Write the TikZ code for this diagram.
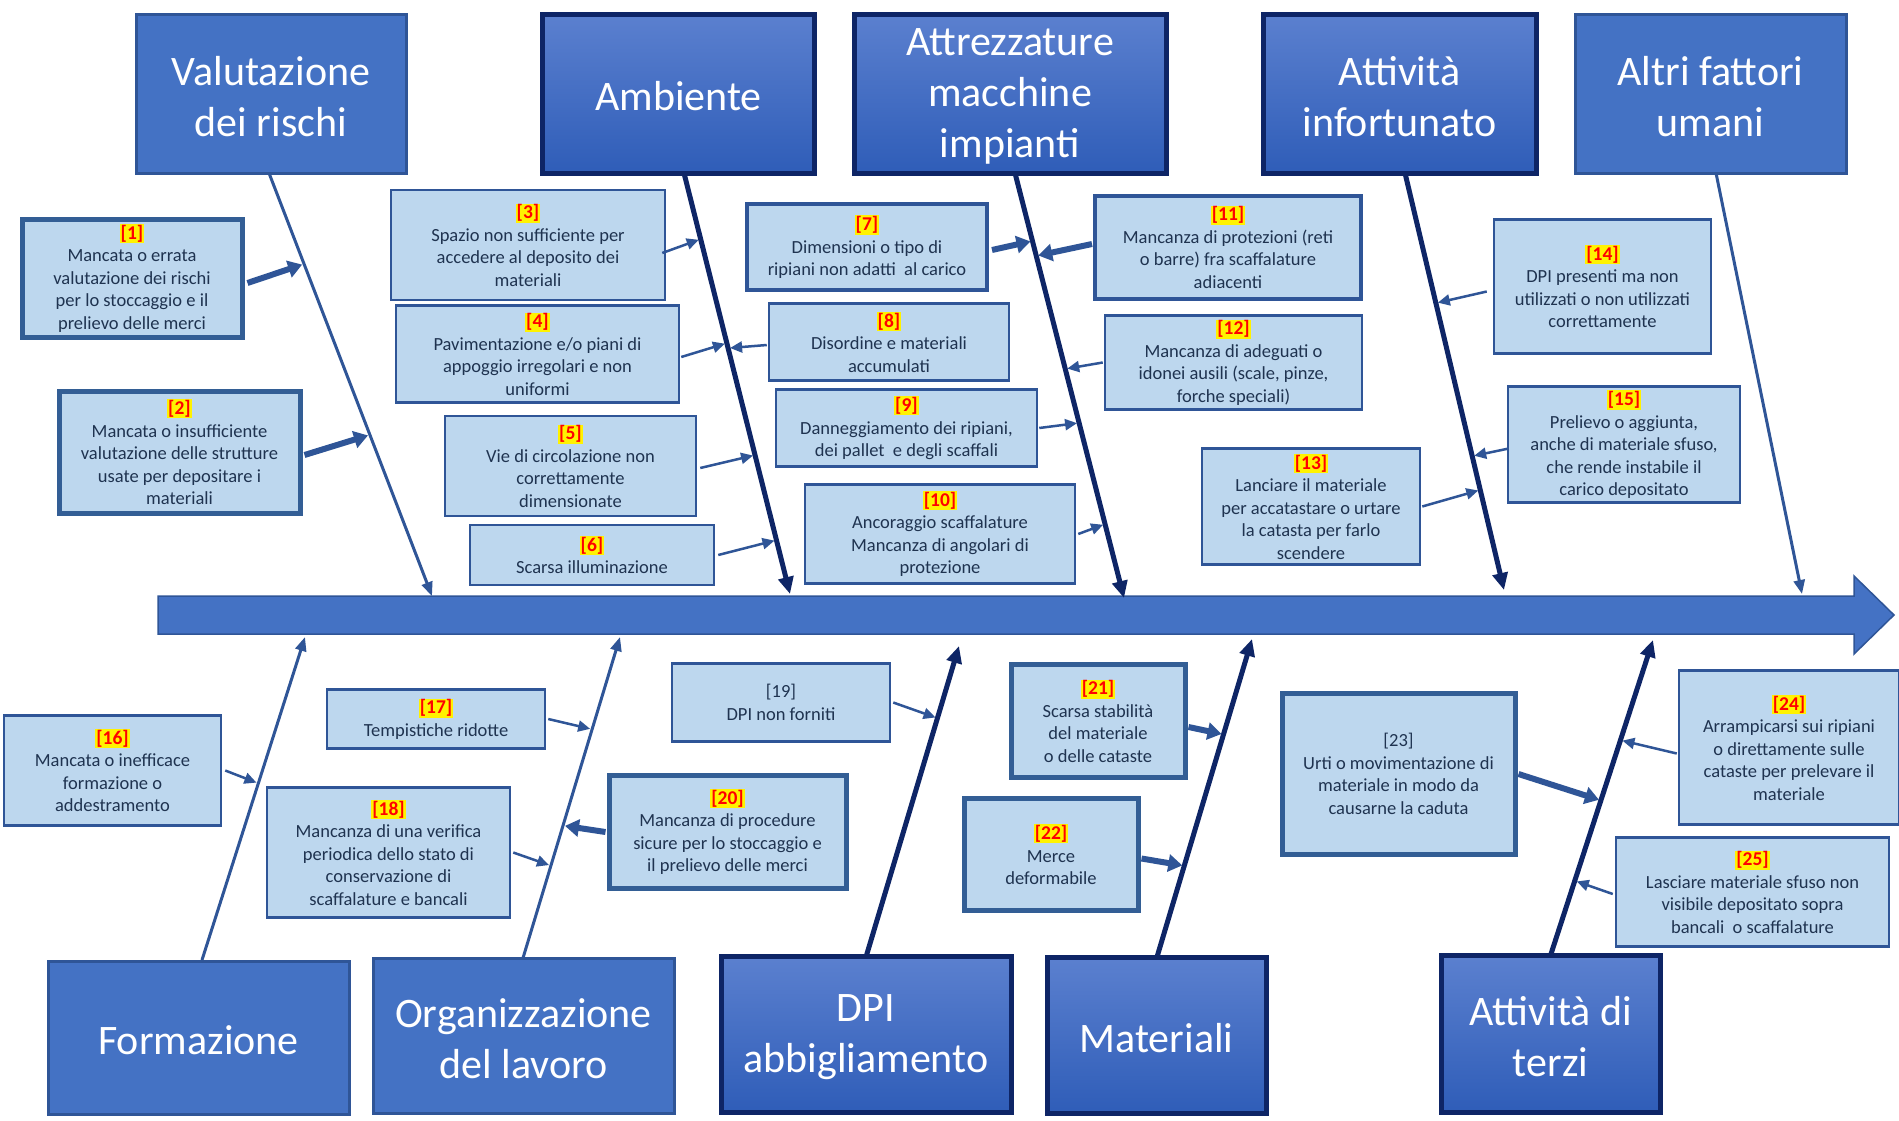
\documentclass[tikz,border=0pt]{standalone}
\usepackage{fontspec}
\setmainfont{Carlito}
\usetikzlibrary{arrows.meta,calc}
\definecolor{catfill}{HTML}{4472C4}
\definecolor{catborder}{HTML}{2F5597}
\definecolor{navy}{HTML}{0E2566}
\definecolor{gradtop}{HTML}{5B80CF}
\definecolor{gradbot}{HTML}{2F5DB8}
\definecolor{causefill}{HTML}{BDD7EE}
\definecolor{causeborder}{HTML}{2F5597}
\definecolor{causethickc}{HTML}{335E95}
\definecolor{txtc}{HTML}{1F3350}
\newcommand\cnum[1]{{\fontsize{19.5}{22.4}\selectfont\setlength{\fboxsep}{1pt}\colorbox{yellow}{\textcolor{red}{\bfseries[#1]}}}}
\begin{document}
\begin{tikzpicture}[x=1pt,y=-1pt,
 sz/.style 2 args={minimum width=#1pt, minimum height=#2pt},
 titletext/.style={text=white, align=center, font=\fontsize{42}{51}\selectfont, inner sep=0pt, yshift=-3pt},
 catbox/.style={draw=catborder, line width=3pt, fill=catfill, inner sep=0pt},
 catdark/.style={draw=navy, line width=5pt, top color=gradtop, bottom color=gradbot, inner sep=0pt},
 cause/.style={draw=causeborder, line width=2.5pt, fill=causefill, text=txtc, align=center, font=\fontsize{18.5}{22.5}\selectfont, inner sep=0pt},
 causethick/.style={cause, draw=causethickc, line width=5pt},
 bonemid/.style={draw=catborder, line width=3pt, -{Triangle[length=14pt,width=11pt]}},
 bonethick/.style={draw=navy, line width=5pt, -{Triangle[length=17pt,width=15pt]}},
 thinarrow/.style={draw=catborder, line width=2.5pt, -{Triangle[length=12pt,width=11pt]}, shorten >=2pt},
 thickarrow/.style={draw=catborder, line width=6pt, -{Triangle[length=14pt,width=17pt]}, shorten >=2pt},
]
\useasboundingbox (0,0) rectangle (1899,1120);
\fill[white] (0,0) rectangle (1899,1120);

% spine
\fill[catfill, draw=catborder, line width=1.5pt] (158,596) -- (1854,596) -- (1854,576) -- (1894,615) -- (1854,654) -- (1854,634) -- (158,634) -- cycle;

% category boxes
\node[catbox, sz={270}{159}, label={[titletext]center:{Valutazione\\dei rischi}}] (V) at (271,93.5) {};
\node[catdark, sz={272}{159}, label={[titletext]center:{Ambiente}}] (A) at (678.5,93.5) {};
\node[catdark, sz={312}{159}, label={[titletext]center:{Attrezzature\\macchine\\impianti}}] (T) at (1010,93.5) {};
\node[catdark, sz={273}{159}, label={[titletext]center:{Attività\\infortunato}}] (I) at (1399.5,93.5) {};
\node[catbox, sz={271}{159}, label={[titletext]center:{Altri fattori\\umani}}] (U) at (1710.5,93.5) {};
\node[catbox, sz={301}{153}, label={[titletext]center:{Formazione}}] (F) at (198.5,1037.5) {};
\node[catbox, sz={301}{155}, label={[titletext]center:{Organizzazione\\del lavoro}}] (O) at (523.5,1035.5) {};
\node[catdark, sz={290}{156}, label={[titletext]center:{DPI\\abbigliamento}}] (D) at (866,1034) {};
\node[catdark, sz={219}{156}, label={[titletext]center:{Materiali}}] (M) at (1156.5,1035) {};
\node[catdark, sz={219}{157}, label={[titletext]center:{Attività di\\terzi}}] (Z) at (1550.5,1033.5) {};

% bone coordinates
\coordinate (bVs) at (269,173);  \coordinate (bVe) at (432,596);
\coordinate (bAs) at (684,173);  \coordinate (bAe) at (790,594);
\coordinate (bTs) at (1015,173); \coordinate (bTe) at (1124,598);
\coordinate (bIs) at (1405,173); \coordinate (bIe) at (1504,590);
\coordinate (bUs) at (1716,173); \coordinate (bUe) at (1802,594);
\coordinate (bFs) at (202,960);  \coordinate (bFe) at (305,637);
\coordinate (bOs) at (523,958);  \coordinate (bOe) at (620,637);
\coordinate (bDs) at (866,957);  \coordinate (bDe) at (959,646);
\coordinate (bMs) at (1157,957); \coordinate (bMe) at (1252,639);
\coordinate (bZs) at (1550,957); \coordinate (bZe) at (1653,640);

\draw[bonemid] (bVs) -- (bVe);
\draw[bonethick] (bAs) -- (bAe);
\draw[bonethick] (bTs) -- (bTe);
\draw[bonethick] (bIs) -- (bIe);
\draw[bonemid] (bUs) -- (bUe);
\draw[bonemid] (bFs) -- (bFe);
\draw[bonemid] (bOs) -- (bOe);
\draw[bonethick] (bDs) -- (bDe);
\draw[bonethick] (bMs) -- (bMe);
\draw[bonethick] (bZs) -- (bZe);

% cause boxes
\node[causethick, sz={220}{118}] (c1) at (132,278) {\cnum{1}\\Mancata o errata\\valutazione dei rischi\\per lo stoccaggio e il\\prelievo delle merci};
\node[causethick, sz={241}{122}] (c2) at (179.5,452) {\cnum{2}\\Mancata o insufficiente\\valutazione delle strutture\\usate per depositare i\\materiali};
\node[cause, sz={274}{110}] (c3) at (528,245) {\cnum{3}\\Spazio non sufficiente per\\accedere al deposito dei\\materiali};
\node[cause, sz={283}{97}] (c4) at (537.5,354) {\cnum{4}\\Pavimentazione e/o piani di\\appoggio irregolari e non\\uniformi};
\node[cause, sz={251}{100}] (c5) at (570.5,466) {\cnum{5}\\Vie di circolazione non\\correttamente\\dimensionate};
\node[cause, sz={244}{60}] (c6) at (592,555) {\cnum{6}\\Scarsa illuminazione};
\node[cause, line width=4pt, sz={240}{86}] (c7) at (867,247) {\cnum{7}\\Dimensioni o tipo di\\ripiani non adatti \ al carico};
\node[cause, sz={240}{77}] (c8) at (889,342) {\cnum{8}\\Disordine e materiali\\accumulati};
\node[cause, sz={261}{77}] (c9) at (906.5,428) {\cnum{9}\\Danneggiamento dei ripiani,\\dei pallet \ e degli scaffali};
\node[cause, sz={270}{99}] (c10) at (940,534) {\cnum{10}\\Ancoraggio scaffalature\\Mancanza di angolari di\\protezione};
\node[cause, line width=4pt, sz={266}{103}] (c11) at (1228,247) {\cnum{11}\\Mancanza di protezioni (reti\\o barre) fra scaffalature\\adiacenti};
\node[cause, sz={257}{94}] (c12) at (1233.5,362.5) {\cnum{12}\\Mancanza di adeguati o\\idonei ausili (scale, pinze,\\forche speciali)};
\node[cause, sz={218}{116}] (c13) at (1311,506.5) {\cnum{13}\\Lanciare il materiale\\per accatastare o urtare\\la catasta per farlo\\scendere};
\node[cause, sz={217}{134}] (c14) at (1602.5,286.5) {\cnum{14}\\DPI presenti ma non\\utilizzati o non utilizzati\\correttamente};
\node[cause, sz={232}{116}] (c15) at (1624,444.5) {\cnum{15}\\Prelievo o aggiunta,\\anche di materiale sfuso,\\che rende instabile il\\carico depositato};
\node[cause, sz={217}{110}] (c16) at (112.5,770.5) {\cnum{16}\\Mancata o inefficace\\formazione o\\addestramento};
\node[cause, sz={218}{59}] (c17) at (436,719) {\cnum{17}\\Tempistiche ridotte};
\node[cause, sz={243}{130}] (c18) at (388.5,852.5) {\cnum{18}\\Mancanza di una verifica\\periodica dello stato di\\conservazione di\\scaffalature e bancali};
\node[cause, sz={218}{78}] (c19) at (781,702.5) {[19]\\DPI non forniti};
\node[causethick, sz={237}{113}] (c20) at (727.5,832) {\cnum{20}\\Mancanza di procedure\\sicure per lo stoccaggio e\\il prelievo delle merci};
\node[causethick, sz={174}{113}] (c21) at (1098,721) {\cnum{21}\\Scarsa stabilità\\del materiale\\o delle cataste};
\node[causethick, sz={174}{112}] (c22) at (1051,854.5) {\cnum{22}\\Merce\\deformabile};
\node[causethick, sz={233}{161}] (c23) at (1398.5,774) {[23]\\Urti o movimentazione di\\materiale in modo da\\causarne la caduta};
\node[cause, sz={220}{154}] (c24) at (1789,747.5) {\cnum{24}\\Arrampicarsi sui ripiani\\o direttamente sulle\\cataste per prelevare il\\materiale};
\node[cause, sz={273}{109}] (c25) at (1752.5,892) {\cnum{25}\\Lasciare materiale sfuso non\\visibile depositato sopra\\bancali \ o scaffalature};

% arrow tips on bones
\coordinate (t1) at ($(bVs)!0.215!(bVe)$);
\coordinate (t2) at ($(bVs)!0.619!(bVe)$);
\coordinate (t3) at ($(bAs)!0.157!(bAe)$);
\coordinate (t4) at ($(bAs)!0.404!(bAe)$);
\coordinate (t8) at ($(bAs)!0.416!(bAe)$);
\coordinate (t5) at ($(bAs)!0.670!(bAe)$);
\coordinate (t6) at ($(bAs)!0.872!(bAe)$);
\coordinate (t7) at ($(bTs)!0.160!(bTe)$);
\coordinate (t11) at ($(bTs)!0.195!(bTe)$);
\coordinate (t12) at ($(bTs)!0.461!(bTe)$);
\coordinate (t9) at ($(bTs)!0.588!(bTe)$);
\coordinate (t10) at ($(bTs)!0.826!(bTe)$);
\coordinate (t14) at ($(bIs)!0.312!(bIe)$);
\coordinate (t15) at ($(bIs)!0.679!(bIe)$);
\coordinate (t13) at ($(bIs)!0.760!(bIe)$);
\coordinate (t16) at ($(bFs)!0.547!(bFe)$);
\coordinate (t17) at ($(bOs)!0.7125!(bOe)$);
\coordinate (t18) at ($(bOs)!0.2875!(bOe)$);
\coordinate (t20) at ($(bOs)!0.4125!(bOe)$);
\coordinate (t19) at ($(bDs)!0.768!(bDe)$);
\coordinate (t21) at ($(bMs)!0.700!(bMe)$);
\coordinate (t22) at ($(bMs)!0.287!(bMe)$);
\coordinate (t23) at ($(bZs)!0.494!(bZe)$);
\coordinate (t24) at ($(bZs)!0.684!(bZe)$);
\coordinate (t25) at ($(bZs)!0.2405!(bZe)$);

% cause arrows
\draw[thickarrow] ([xshift=3pt,yshift=-5pt]c1.east) -- (t1);
\draw[thickarrow] ([xshift=2pt,yshift=-3pt]c2.east) -- (t2);
\draw[thinarrow] ([xshift=-4pt,yshift=-8pt]c3.east) -- (t3);
\draw[thinarrow] ([xshift=1pt,yshift=-3pt]c4.east) -- (t4);
\draw[thinarrow] ([xshift=3pt,yshift=-2pt]c5.east) -- (t5);
\draw[thinarrow] ([xshift=3pt]c6.east) -- (t6);
\draw[thickarrow] ([xshift=3pt,yshift=-3pt]c7.east) -- (t7);
\draw[thinarrow] ([xshift=-1pt,yshift=-3pt]c8.west) -- (t8);
\draw[thinarrow] ([xshift=1pt]c9.east) -- (t9);
\draw[thinarrow] ([xshift=2pt]c10.east) -- (t10);
\draw[thickarrow] ([xshift=-1pt,yshift=3pt]c11.west) -- (t11);
\draw[thinarrow] ([xshift=-1pt]c12.west) -- (t12);
\draw[thinarrow] ([xshift=1pt]c13.east) -- (t13);
\draw[thinarrow] ([xshift=-6pt,yshift=-5pt]c14.west) -- (t14);
\draw[thinarrow] ([xshift=2pt,yshift=-4pt]c15.west) -- (t15);
\draw[thinarrow] ([xshift=3pt]c16.east) -- (t16);
\draw[thinarrow] ([xshift=2pt]c17.east) -- (t17);
\draw[thinarrow] ([xshift=2pt]c18.east) -- (t18);
\draw[thinarrow] ([xshift=2pt]c19.east) -- (t19);
\draw[thickarrow] ([xshift=-1pt]c20.west) -- (t20);
\draw[thickarrow] ([xshift=1pt,yshift=-6pt]c21.east) -- (t21);
\draw[thickarrow] ([xshift=1pt,yshift=-4pt]c22.east) -- (t22);
\draw[thickarrow] ([xshift=1pt]c23.east) -- (t23);
\draw[thinarrow] ([xshift=-1pt,yshift=-6pt]c24.west) -- (t24);
\draw[thinarrow] ([xshift=-2pt,yshift=-2pt]c25.west) -- (t25);
\end{tikzpicture}
\end{document}
